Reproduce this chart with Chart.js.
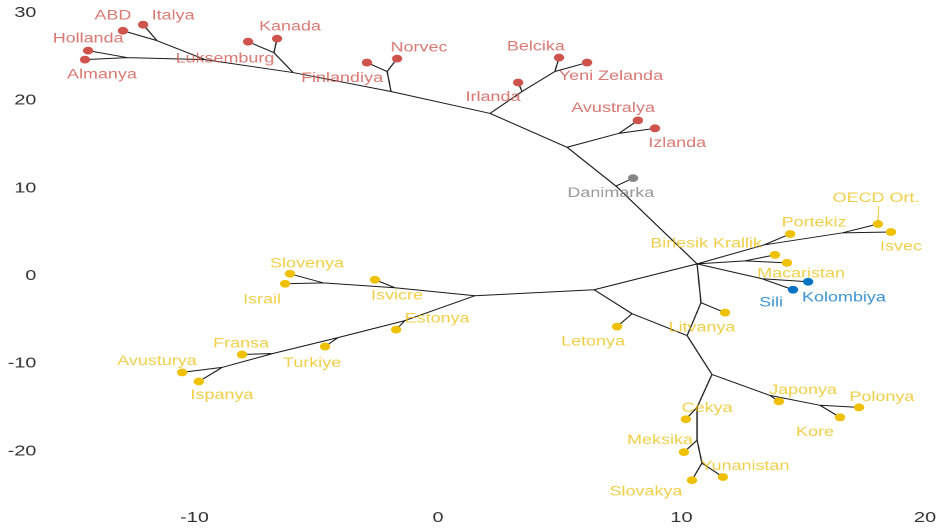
<!DOCTYPE html>
<html>
<head>
<meta charset="utf-8">
<script src="https://cdn.jsdelivr.net/npm/chart.js@4"></script>
<style>
  html, body { margin: 0; padding: 0; background: #fff; overflow: hidden; }
  #wrap { position: absolute; left: 0; top: 0; width: 712px; height: 530px;
          transform: scaleX(1.33006); transform-origin: 0 0; }
</style>
</head>
<body>
<div id="wrap"><canvas id="c"></canvas></div>
<script>
// ---- tips (countries) ----
const tipNames = ['Hollanda','Almanya','ABD','Italya','Luksemburg','Kanada','Finlandiya','Norvec',
  'Irlanda','Belcika','Yeni Zelanda','Avustralya','Izlanda','Danimarka','OECD Ort.','Isvec','Portekiz',
  'Birlesik Krallik','Macaristan','Kolombiya','Sili','Litvanya','Letonya','Cekya','Meksika','Slovakya',
  'Yunanistan','Japonya','Kore','Polonya','Slovenya','Israil','Isvicre','Estonya','Turkiye','Fransa',
  'Avusturya','Ispanya'];
const tipX = [-14.37,-14.50,-12.94,-12.11,-7.80,-6.61,-2.92,-1.68,
  3.29,4.97,6.12,8.21,8.91,8.01,18.07,18.60,14.46,
  13.84,14.33,15.20,14.58,11.79,7.35,10.18,10.10,10.43,
  11.70,14.00,16.51,17.29,-6.08,-6.28,-2.59,-1.72,-4.64,-8.05,
  -10.51,-9.82];
const tipY = [25.68,24.66,27.95,28.64,26.70,27.05,24.32,24.77,
  22.05,24.89,24.32,17.73,16.82,11.14,5.91,5.00,4.77,
  2.39,1.48,-0.68,-1.59,-4.20,-5.80,-16.36,-20.11,-23.30,
  -22.95,-14.32,-16.14,-15.00,0.23,-0.91,-0.45,-6.14,-8.07,-8.98,
  -11.02,-12.05];
const tipGroup = ['r','r','r','r','r','r','r','r',
  'r','r','r','r','r','g','y','y','y',
  'y','y','b','b','y','y','y','y','y',
  'y','y','y','y','y','y','y','y','y','y',
  'y','y'];
// label anchor positions (data units)
const labelX = [-14.37,-13.80,-13.35,-10.88,-8.75,-6.08,-3.94,-0.78,
  2.26,4.02,7.10,7.19,9.82,7.10,17.99,19.01,15.44,
  11.01,14.91,16.67,13.68,10.84,6.37,11.05,9.12,8.54,
  12.61,14.99,15.48,18.23,-5.38,-7.23,-1.68,-0.04,-5.17,-8.09,
  -11.54,-8.87];
const labelY = [27.05,22.95,29.66,29.66,24.77,28.41,22.50,26.02,
  20.34,26.14,22.73,19.09,15.11,9.43,8.86,3.30,6.02,
  3.64,0.23,-2.50,-3.07,-5.91,-7.50,-15.11,-18.75,-24.66,
  -21.70,-13.07,-17.84,-13.86,1.36,-2.73,-2.27,-4.89,-10.00,-7.73,
  -9.77,-13.64];

// ---- internal nodes ----
const nodeNames = ['center','nDan','nA','nAvi','nB','nIrl','nBel','nC','nNor','nD','nKan','nE','nAbd','nHol',
  'nPort','nOecd','nBk','nSk','nF','nG','nIsv','nSlo','nEst','nTur','nFra','nAvu',
  'nLet','nLit','nH','nI','nJap','nKor','nCek','nMek','nYun'];
const nodeX = [10.64,7.31,5.30,7.43,2.14,3.45,4.80,-1.93,-2.09,-5.95,-6.74,-9.57,-11.54,-12.77,
  13.39,16.59,12.61,13.31,6.41,1.52,-1.77,-4.72,-1.36,-4.11,-6.78,-8.87,
  7.97,10.80,10.23,11.25,13.63,15.69,10.64,10.64,10.84];
const nodeY = [1.36,10.23,14.66,16.25,18.52,21.02,23.30,21.02,23.30,23.18,25.45,24.66,26.82,24.89,
  3.52,4.89,1.70,-0.34,-1.59,-2.27,-1.36,-0.80,-5.11,-7.05,-8.86,-10.45,
  -4.32,-3.07,-6.82,-11.25,-13.64,-14.77,-15.00,-18.75,-21.36];

// ---- edges (from, to) ----
const edgeFrom = ['center','nDan','nDan','nA','nAvi','nAvi','nA','nB','nIrl','nIrl','nBel','nBel',
  'nB','nC','nNor','nNor','nC','nD','nKan','nKan','nD','nE','nAbd','nAbd','nE','nHol','nHol',
  'center','nPort','nPort','nOecd','nOecd','center','nBk','nBk','center','nSk','nSk',
  'center','nF','nG','nIsv','nIsv','nSlo','nSlo','nG','nEst','nEst','nTur','nTur','nFra','nFra','nAvu','nAvu',
  'nF','nLet','nLet','center','nLit','nLit','nH','nI','nJap','nJap','nKor','nKor',
  'nI','nCek','nCek','nMek','nMek','nYun','nYun'];
const edgeTo = ['nDan','nA','Danimarka','nAvi','Avustralya','Izlanda','nB','nIrl','Irlanda','nBel','Belcika','Yeni Zelanda',
  'nC','nNor','Finlandiya','Norvec','nD','nKan','Kanada','Luksemburg','nE','nAbd','ABD','Italya','nHol','Hollanda','Almanya',
  'nPort','Portekiz','nOecd','OECD Ort.','Isvec','nBk','Birlesik Krallik','Macaristan','nSk','Kolombiya','Sili',
  'nF','nG','nIsv','Isvicre','nSlo','Slovenya','Israil','nEst','Estonya','nTur','Turkiye','nFra','Fransa','nAvu','Avusturya','Ispanya',
  'nLet','Letonya','nH','nLit','Litvanya','nH','nI','nJap','Japonya','nKor','Kore','Polonya',
  'nCek','Cekya','nMek','Meksika','nYun','Slovakya','Yunanistan'];

const xTicks = [-10, 0, 10, 20];
const yTicks = [-20, -10, 0, 10, 20, 30];
const connectorLabels = ['OECD Ort.'];

// ---- build library data from arrays ----
function pos(name) {
  let i = tipNames.indexOf(name);
  if (i >= 0) return {x: tipX[i], y: tipY[i]};
  i = nodeNames.indexOf(name);
  return {x: nodeX[i], y: nodeY[i]};
}
const edgeData = [];
edgeFrom.forEach((f, i) => {
  edgeData.push(pos(f), pos(edgeTo[i]), {x: NaN, y: NaN});
});
const pointColors = {r: '#CD534C', g: '#868686', y: '#EFC000', b: '#0073C2'};
const textColors = {r: 'rgba(205,83,76,0.78)', g: 'rgba(134,134,134,0.85)', y: 'rgba(234,188,0,0.72)', b: 'rgba(0,115,194,0.78)'};
function groupData(g) {
  const out = [];
  tipNames.forEach((n, i) => { if (tipGroup[i] === g) out.push({x: tipX[i], y: tipY[i]}); });
  return out;
}

const labelPlugin = {
  id: 'tipLabels',
  afterDatasetsDraw(chart) {
    const {ctx, scales: {x, y}} = chart;
    ctx.save();
    ctx.font = '13.5px "Liberation Sans", Arial, sans-serif';
    ctx.textAlign = 'center';
    ctx.textBaseline = 'middle';
    tipNames.forEach((n, i) => {
      const px = x.getPixelForValue(labelX[i]);
      const py = y.getPixelForValue(labelY[i]);
      if (connectorLabels.includes(n)) {
        ctx.strokeStyle = textColors[tipGroup[i]];
        ctx.lineWidth = 1;
        ctx.beginPath();
        ctx.moveTo(px + 2, py + 8);
        ctx.lineTo(x.getPixelForValue(tipX[i]), y.getPixelForValue(tipY[i]) - 3);
        ctx.stroke();
      }
      ctx.fillStyle = textColors[tipGroup[i]];
      ctx.fillText(n, px, py);
    });
    ctx.restore();
  }
};

const tickFont = {family: '"Liberation Sans", Arial, sans-serif', size: 15};

new Chart(document.getElementById('c'), {
  type: 'scatter',
  data: {
    datasets: [
      {data: edgeData, showLine: true, spanGaps: false, borderColor: '#1a1a1a', borderWidth: 1,
       pointRadius: 0, pointHoverRadius: 0, order: 5},
      {data: groupData('r'), backgroundColor: pointColors.r, borderWidth: 0, pointRadius: 3.9, order: 1},
      {data: groupData('g'), backgroundColor: pointColors.g, borderWidth: 0, pointRadius: 3.9, order: 1},
      {data: groupData('y'), backgroundColor: pointColors.y, borderWidth: 0, pointRadius: 3.9, order: 1},
      {data: groupData('b'), backgroundColor: pointColors.b, borderWidth: 0, pointRadius: 3.9, order: 1}
    ]
  },
  options: {
    responsive: true,
    maintainAspectRatio: false,
    devicePixelRatio: 2,
    animation: false,
    layout: {padding: {top: 2.2, right: 7.4, bottom: 0, left: 0}},
    plugins: {legend: {display: false}, tooltip: {enabled: false}},
    scales: {
      x: {
        type: 'linear', min: -16, max: 20.5,
        grid: {display: false, drawTicks: false}, border: {display: false},
        ticks: {font: tickFont, color: '#333', padding: 14, maxRotation: 0},
        afterBuildTicks: s => { s.ticks = xTicks.map(v => ({value: v})); },
        afterFit: s => { s.height = 35; s.paddingLeft = 0; s.paddingRight = 0; }
      },
      y: {
        type: 'linear', min: -25, max: 31,
        grid: {display: false, drawTicks: false}, border: {display: false},
        ticks: {font: tickFont, color: '#333', padding: 9},
        afterBuildTicks: s => { s.ticks = yTicks.map(v => ({value: v})); },
        afterFit: s => { s.width = 36.4; s.paddingTop = 0; s.paddingBottom = 0; }
      }
    }
  },
  plugins: [labelPlugin]
});
</script>
</body>
</html>
